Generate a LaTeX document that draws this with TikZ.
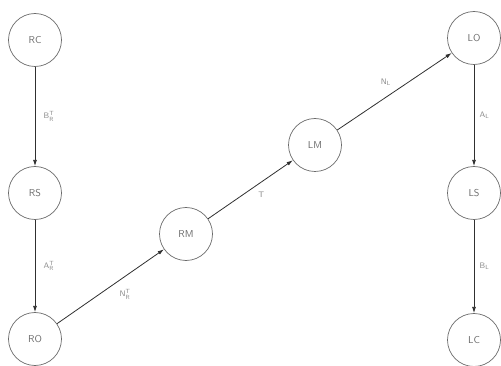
\documentclass[tikz,border=0pt]{standalone}
\usepackage{amsmath}
\usetikzlibrary{positioning, arrows.meta}
\definecolor{ringgray}{HTML}{6A6A6A}
\definecolor{labgray}{HTML}{8A8A8A}
\definecolor{linedark}{HTML}{303030}

\begin{document}
\begin{tikzpicture}[x=1pt, y=-1pt,
    state/.style={circle, draw=ringgray, line width=0.7pt, minimum size=53pt,
                  inner sep=0pt, font=\sffamily, text=ringgray},
    trans/.style={-{Latex[length=2.2mm, width=1.4mm]}, linedark, line width=0.8pt},
    lab/.style={font=\sffamily\footnotesize, text=labgray}]
  \useasboundingbox (0,0) rectangle (501,366);
  % right side: RC -> RS -> RO
  \node[state] (rc) at (35,40)  {RC};
  \node[state] (rs) at (35,193) {RS};
  \node[state] (ro) at (35,339) {RO};
  % middle
  \node[state] (rm) at (186,234) {RM};
  \node[state] (lm) at (315,145) {LM};
  % left side: LO -> LS -> LC
  \node[state] (lo) at (474,38)  {LO};
  \node[state] (ls) at (474,193) {LS};
  \node[state] (lc) at (474,340) {LC};

  \draw[trans] (rc) -- node[lab, right=5pt] (brt) {$\mathsf{B}_{\mathsf{R}}^{\mathsf{T}}$} (rs);
  \draw[trans] (rs) -- node[lab, right=5pt] (art) {$\mathsf{A}_{\mathsf{R}}^{\mathsf{T}}$} (ro);
  \draw[trans] (ro) -- node[lab, below right=3pt and 0pt, pos=0.55] (nrt) {$\mathsf{N}_{\mathsf{R}}^{\mathsf{T}}$} (rm);
  \draw[trans] (rm) -- node[lab, below right=2pt and 0pt, pos=0.55] (t) {$\mathsf{T}$} (lm);
  \draw[trans] (lm) -- node[lab, above left=2pt and 0pt, pos=0.5] (nl) {$\mathsf{N}_{\mathsf{L}}$} (lo);
  \draw[trans] (lo) -- node[lab, right=2pt] (al) {$\mathsf{A}_{\mathsf{L}}$} (ls);
  \draw[trans] (ls) -- node[lab, right=2pt] (bl) {$\mathsf{B}_{\mathsf{L}}$} (lc);
\end{tikzpicture}
\end{document}
